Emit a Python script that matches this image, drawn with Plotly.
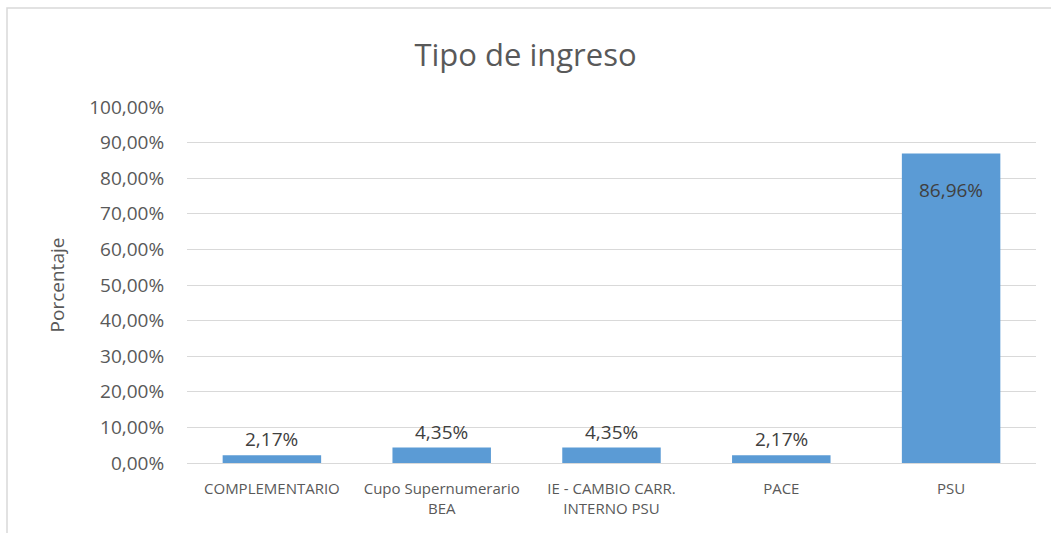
import plotly.graph_objects as go

categories = ["COMPLEMENTARIO", "Cupo Supernumerario<br>BEA", "IE - CAMBIO CARR.<br>INTERNO PSU", "PACE", "PSU"]
values = [2.17, 4.35, 4.35, 2.17, 86.96]
labels = ["2,17%", "4,35%", "4,35%", "2,17%", "86,96%"]
tick_vals = list(range(0, 101, 10))
tick_text = ["0,00%", "10,00%", "20,00%", "30,00%", "40,00%", "50,00%",
             "60,00%", "70,00%", "80,00%", "90,00%", "100,00%"]

FONT = "Open Sans, Liberation Sans, sans-serif"
BAR = "#5B9BD5"
TXT = "#595959"

fig = go.Figure(go.Bar(x=categories, y=values, marker=dict(color=BAR, line=dict(width=0)),
                       hoverinfo="skip"))

ann = []
for c, v, t in zip(categories, values, labels):
    if v > 50:
        ann.append(dict(x=c, y=v, text=t, showarrow=False, yanchor="top", yshift=-22,
                        font=dict(family=FONT, size=19, color="#404040")))
    else:
        ann.append(dict(x=c, y=v, text=t, showarrow=False, yanchor="bottom", yshift=1,
                        font=dict(family=FONT, size=19, color="#404040")))

fig.update_layout(
    width=1051, height=533,
    margin=dict(l=187, r=15, t=107, b=70),
    paper_bgcolor="white", plot_bgcolor="white",
    bargap=0.42,
    showlegend=False,
    title=dict(text="Tipo de ingreso", x=0.5, xanchor="center", y=0.897, yanchor="middle",
               font=dict(family=FONT, size=31, color=TXT)),
    font=dict(family=FONT, color=TXT),
    xaxis=dict(showgrid=False, showline=False, ticks="outside", ticklen=12, tickcolor="white",
               tickfont=dict(size=15, color=TXT)),
    yaxis=dict(range=[0, 100], tickmode="array", tickvals=tick_vals, ticktext=tick_text,
               showgrid=True, gridcolor="#D9D9D9", gridwidth=1, zeroline=True,
               zerolinecolor="#D9D9D9", zerolinewidth=1, showline=False,
               tickfont=dict(size=19, color=TXT), ticks="outside", ticklen=18, tickcolor="white",
               title=dict(text="Porcentaje", font=dict(size=19, color=TXT), standoff=19)),
    annotations=ann,
    shapes=[dict(type="rect", xref="paper", yref="paper",
                 x0=-180/849, x1=1.03, y0=-0.3, y1=(533-8-70)/356,
                 line=dict(color="#D9D9D9", width=1.5), fillcolor="rgba(0,0,0,0)", layer="below")],
)

fig.write_html("out.html", config={"displayModeBar": False},
               post_script="document.body.style.margin='0px';")
